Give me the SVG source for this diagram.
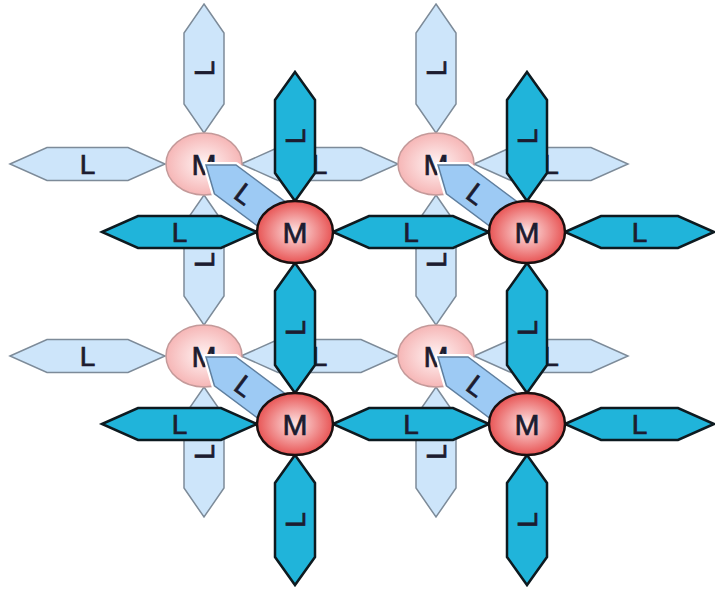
<svg xmlns="http://www.w3.org/2000/svg" width="715" height="592" viewBox="0 0 715 592">
<defs>
<radialGradient id="gBack" cx="50%" cy="50%" r="55%">
<stop offset="0" stop-color="#fff4f4"/>
<stop offset="1" stop-color="#f5b0b0"/>
</radialGradient>
<radialGradient id="gFront" cx="50%" cy="50%" r="55%">
<stop offset="0" stop-color="#fde4e4"/>
<stop offset="1" stop-color="#e64646"/>
</radialGradient>
</defs>
<style>
.bl{fill:#cde5fa;stroke:#7d8b99;stroke-width:1.5;stroke-linejoin:miter}
.bm{fill:url(#gBack);stroke:#c49a9a;stroke-width:1.5}
.halo{fill:#ffffff;stroke:#ffffff;stroke-width:6;stroke-linejoin:round}
.dl{fill:#9dcaf4;stroke:#5f7f9f;stroke-width:1.5}
.fl{fill:#20b4da;stroke:#0d1a20;stroke-width:2.5}
.fm{fill:url(#gFront);stroke:#1a1010;stroke-width:2.5}
.t{font-family:"Liberation Sans",Arial,sans-serif;fill:#1c1c30;stroke:#1c1c30;stroke-width:0.7;text-anchor:middle}
.tl{font-size:28px}
.tm{font-size:30px}
</style>
<rect width="715" height="592" fill="#ffffff"/>

<g id="back-layer">
<g id="bL-h1"><polygon class="bl" points="10,164 47,147.5 128,147.5 165,164 128,180.5 47,180.5"/><text class="t tl" x="87.5" y="174">L</text></g>
<g id="bL-h2"><polygon class="bl" points="241,164 278,147.5 361,147.5 398,164 361,180.5 278,180.5"/><text class="t tl" x="319.5" y="174">L</text></g>
<g id="bL-h3"><polygon class="bl" points="474,164 511,147.5 591,147.5 628,164 591,180.5 511,180.5"/><text class="t tl" x="551" y="174">L</text></g>
<g id="bL-h4"><polygon class="bl" points="10,356 47,339.5 128,339.5 165,356 128,372.5 47,372.5"/><text class="t tl" x="87.5" y="366">L</text></g>
<g id="bL-h5"><polygon class="bl" points="241,356 278,339.5 361,339.5 398,356 361,372.5 278,372.5"/><text class="t tl" x="319.5" y="366">L</text></g>
<g id="bL-h6"><polygon class="bl" points="474,356 511,339.5 591,339.5 628,356 591,372.5 511,372.5"/><text class="t tl" x="551" y="366">L</text></g>

<g id="bL-v1"><polygon class="bl" points="204,4 224,33 224,104 204,133 184,104 184,33"/><text class="t tl" transform="translate(204,68.5) rotate(-90)" x="0" y="10">L</text></g>
<g id="bL-v2"><polygon class="bl" points="204,195 224,224 224,296 204,325 184,296 184,224"/><text class="t tl" transform="translate(204,260) rotate(-90)" x="0" y="10">L</text></g>
<g id="bL-v3"><polygon class="bl" points="204,387 224,416 224,488 204,517 184,488 184,416"/><text class="t tl" transform="translate(204,452) rotate(-90)" x="0" y="10">L</text></g>
<g id="bL-v4"><polygon class="bl" points="436,4 456,33 456,104 436,133 416,104 416,33"/><text class="t tl" transform="translate(436,68.5) rotate(-90)" x="0" y="10">L</text></g>
<g id="bL-v5"><polygon class="bl" points="436,195 456,224 456,296 436,325 416,296 416,224"/><text class="t tl" transform="translate(436,260) rotate(-90)" x="0" y="10">L</text></g>
<g id="bL-v6"><polygon class="bl" points="436,387 456,416 456,488 436,517 416,488 416,416"/><text class="t tl" transform="translate(436,452) rotate(-90)" x="0" y="10">L</text></g>

<g id="bM1"><ellipse class="bm" cx="204" cy="164" rx="38" ry="31"/><text class="t tm" x="204" y="175">M</text></g>
<g id="bM2"><ellipse class="bm" cx="436" cy="164" rx="38" ry="31"/><text class="t tm" x="436" y="175">M</text></g>
<g id="bM3"><ellipse class="bm" cx="204" cy="356" rx="38" ry="31"/><text class="t tm" x="204" y="367">M</text></g>
<g id="bM4"><ellipse class="bm" cx="436" cy="356" rx="38" ry="31"/><text class="t tm" x="436" y="367">M</text></g>
</g>

<g id="connectors">
<g id="dL1" transform="translate(206,165) rotate(36.8)"><polygon class="halo" points="0,0 24,-18 92,-18 116,0 92,18 24,18"/><polygon class="dl" points="0,0 24,-18 92,-18 116,0 92,18 24,18"/><text class="t tl" x="48" y="10">L</text></g>
<g id="dL2" transform="translate(438,165) rotate(36.8)"><polygon class="halo" points="0,0 24,-18 92,-18 116,0 92,18 24,18"/><polygon class="dl" points="0,0 24,-18 92,-18 116,0 92,18 24,18"/><text class="t tl" x="48" y="10">L</text></g>
<g id="dL3" transform="translate(206,357) rotate(36.8)"><polygon class="halo" points="0,0 24,-18 92,-18 116,0 92,18 24,18"/><polygon class="dl" points="0,0 24,-18 92,-18 116,0 92,18 24,18"/><text class="t tl" x="48" y="10">L</text></g>
<g id="dL4" transform="translate(438,357) rotate(36.8)"><polygon class="halo" points="0,0 24,-18 92,-18 116,0 92,18 24,18"/><polygon class="dl" points="0,0 24,-18 92,-18 116,0 92,18 24,18"/><text class="t tl" x="48" y="10">L</text></g>
</g>

<g id="front-layer">
<g id="fL-h1"><polygon class="fl" points="102,232 138,216 221,216 257,232 221,248 138,248"/><text class="t tl" x="179.5" y="242">L</text></g>
<g id="fL-h2"><polygon class="fl" points="333,232 369,216 453,216 489,232 453,248 369,248"/><text class="t tl" x="411" y="242">L</text></g>
<g id="fL-h3"><polygon class="fl" points="565,232 601,216 678,216 714,232 678,248 601,248"/><text class="t tl" x="639.5" y="242">L</text></g>
<g id="fL-h4"><polygon class="fl" points="102,424 138,408 221,408 257,424 221,440 138,440"/><text class="t tl" x="179.5" y="434">L</text></g>
<g id="fL-h5"><polygon class="fl" points="333,424 369,408 453,408 489,424 453,440 369,440"/><text class="t tl" x="411" y="434">L</text></g>
<g id="fL-h6"><polygon class="fl" points="565,424 601,408 678,408 714,424 678,440 601,440"/><text class="t tl" x="639.5" y="434">L</text></g>

<g id="fL-v1"><polygon class="fl" points="295,72 315,100 315,173 295,201 275,173 275,100"/><text class="t tl" transform="translate(295,136.5) rotate(-90)" x="0" y="10">L</text></g>
<g id="fL-v2"><polygon class="fl" points="295,263 315,291 315,365 295,393 275,365 275,291"/><text class="t tl" transform="translate(295,328) rotate(-90)" x="0" y="10">L</text></g>
<g id="fL-v3"><polygon class="fl" points="295,455 315,483 315,557 295,585 275,557 275,483"/><text class="t tl" transform="translate(295,520) rotate(-90)" x="0" y="10">L</text></g>
<g id="fL-v4"><polygon class="fl" points="527,72 547,100 547,173 527,201 507,173 507,100"/><text class="t tl" transform="translate(527,136.5) rotate(-90)" x="0" y="10">L</text></g>
<g id="fL-v5"><polygon class="fl" points="527,263 547,291 547,365 527,393 507,365 507,291"/><text class="t tl" transform="translate(527,328) rotate(-90)" x="0" y="10">L</text></g>
<g id="fL-v6"><polygon class="fl" points="527,455 547,483 547,557 527,585 507,557 507,483"/><text class="t tl" transform="translate(527,520) rotate(-90)" x="0" y="10">L</text></g>

<g id="fM1"><ellipse class="fm" cx="295" cy="232" rx="38" ry="31"/><text class="t tm" x="295" y="243">M</text></g>
<g id="fM2"><ellipse class="fm" cx="527" cy="232" rx="38" ry="31"/><text class="t tm" x="527" y="243">M</text></g>
<g id="fM3"><ellipse class="fm" cx="295" cy="424" rx="38" ry="31"/><text class="t tm" x="295" y="435">M</text></g>
<g id="fM4"><ellipse class="fm" cx="527" cy="424" rx="38" ry="31"/><text class="t tm" x="527" y="435">M</text></g>
</g>
</svg>
